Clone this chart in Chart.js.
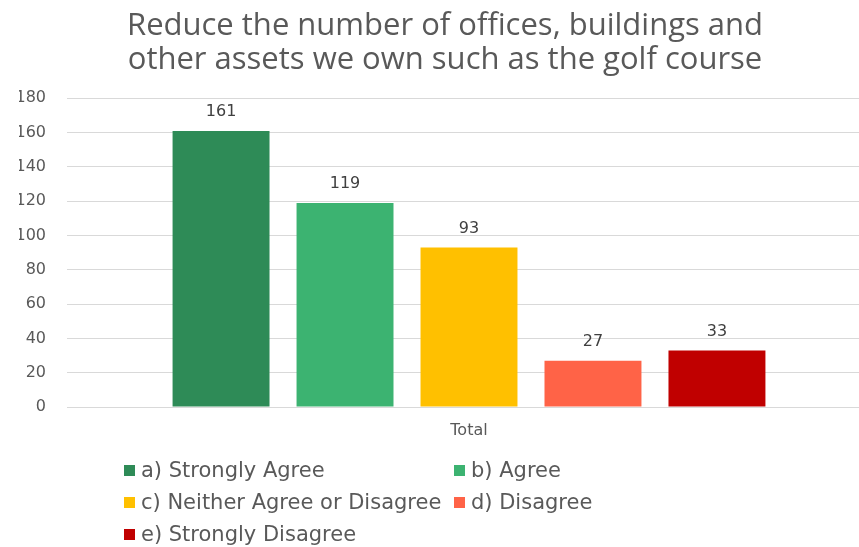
<!DOCTYPE html>
<html>
<head>
<meta charset="utf-8">
<script src="https://cdn.jsdelivr.net/npm/chart.js@4"></script>
<style>
    body { margin: 0; overflow: hidden; background: #fff; }
    #wrap { position: relative; width: 871px; height: 547px; }
    #legend {
        position: absolute; left: 124px; top: 454px;
        display: grid; grid-template-columns: 330px auto;
        font-family: 'DejaVu Sans', sans-serif; font-size: 21px; color: #595959;
    }
    .item { display: flex; align-items: center; height: 32px; white-space: nowrap; }
    .swatch { width: 11px; height: 11px; margin-right: 6px; }
</style>
</head>
<body>
<div id="wrap">
    <canvas id="chart"></canvas>
    <div id="legend"></div>
</div>
<script>
const categories = ['Total']
const seriesNames = ['a) Strongly Agree', 'b) Agree', 'c) Neither Agree or Disagree', 'd) Disagree', 'e) Strongly Disagree']
const seriesValues = [161, 119, 93, 27, 33]
const seriesColors = ['#2E8B57', '#3CB371', '#FFC000', '#FF6347', '#C00000']
const titleLines = ['Reduce the number of offices, buildings and', 'other assets we own such as the golf course']

// value labels above each bar
const barLabels = {
    id: 'barLabels',
    afterDatasetsDraw(chart) {
        const ctx = chart.ctx
        ctx.save()
        ctx.font = '16px "DejaVu Sans"'
        ctx.fillStyle = '#404040'
        ctx.textAlign = 'center'
        ctx.textBaseline = 'bottom'
        chart.data.datasets.forEach((ds, i) => {
            chart.getDatasetMeta(i).data.forEach((bar, j) => {
                ctx.fillText(ds.data[j], bar.x, bar.y - 11)
            })
        })
        ctx.restore()
    }
}

new Chart(document.getElementById('chart'), {
    type: 'bar',
    data: {
        labels: categories,
        datasets: seriesNames.map((name, i) => ({
            label: name,
            data: [seriesValues[i]],
            backgroundColor: seriesColors[i],
            categoryPercentage: 0.771,
            barPercentage: 0.782
        }))
    },
    options: {
        responsive: true,
        maintainAspectRatio: false,
        animation: false,
        layout: { padding: { left: 19, right: 0, top: 0, bottom: 0 } },
        plugins: {
            legend: { display: false },
            tooltip: { enabled: false },
            title: {
                display: true,
                text: titleLines,
                color: '#595959',
                font: { family: 'Open Sans', size: 31, weight: 'normal', lineHeight: 1.07 },
                padding: { top: 10, bottom: 22 }
            }
        },
        scales: {
            x: {
                grid: { display: false, drawTicks: false },
                border: { display: false },
                ticks: { color: '#595959', font: { family: 'DejaVu Sans', size: 16 }, padding: 14 },
                afterFit(scale) { scale.height = 140 }
            },
            y: {
                min: 0,
                max: 180,
                ticks: { stepSize: 20, color: '#595959', font: { family: 'DejaVu Sans', size: 16 }, padding: 21 },
                grid: { color: '#d9d9d9', drawTicks: false },
                border: { display: false },
                afterFit(scale) { scale.width = 48 }
            }
        }
    },
    plugins: [barLabels]
})

const legend = document.getElementById('legend')
seriesNames.forEach((name, i) => {
    const item = document.createElement('div')
    item.className = 'item'
    item.innerHTML = `<span class="swatch" style="background:${seriesColors[i]}"></span>${name}`
    legend.appendChild(item)
})
</script>
</body>
</html>
